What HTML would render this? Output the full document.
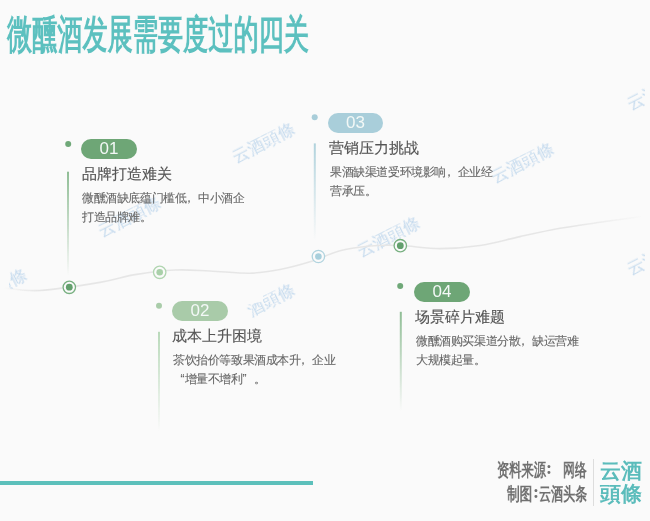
<!DOCTYPE html>
<html><head><meta charset="utf-8">
<style>
html,body{margin:0;padding:0;}
.a,.pill,.h,.b,.wm,.ft{will-change:transform;}
body{width:650px;height:521px;overflow:hidden;background:#fafafa;position:relative;font-family:"Liberation Sans",sans-serif;}
.a{position:absolute;white-space:nowrap;}
.title{left:7px;top:6.9px;font-size:40px;font-weight:700;color:#5cc0bf;letter-spacing:0;transform-origin:0 0;transform:scale(0.629,1);}
.pill{position:absolute;height:20px;border-radius:10px;color:#f3f8f6;font-size:17px;line-height:20px;text-align:center;width:56px;}
.h{position:absolute;font-size:15px;color:#555;line-height:18px;white-space:nowrap;-webkit-text-stroke:0.15px #555;}
.b{position:absolute;font-size:12px;letter-spacing:-0.4px;color:#666;line-height:19.4px;white-space:nowrap;-webkit-text-stroke:0.1px #666;}
.cm{position:relative;left:-3.4px;}
.ql{display:inline-block;width:11.6px;text-align:right;letter-spacing:0;}
.qr{display:inline-block;width:11.6px;text-align:left;letter-spacing:0;}
.wm{position:absolute;font-family:"Liberation Serif",serif;font-size:17px;line-height:20px;color:#c6dbee;transform-origin:0 0;transform:rotate(-27deg);white-space:nowrap;}
.ft{position:absolute;font-family:"Liberation Serif",serif;font-weight:700;color:#707070;white-space:nowrap;transform-origin:0 0;}
</style></head><body>
<div class="a title" id="title">微醺酒发展需要度过的四关</div>

<!-- watermarks -->
<div style="position:absolute;left:0;top:0;width:645px;height:521px;clip-path:inset(0 0 0 9px);">
<div class="wm" style="left:229.1px;top:149.6px;">云酒頭條</div>
<div class="wm" style="left:95.2px;top:224.2px;">云酒頭條</div>
<div class="wm" style="left:487.8px;top:170.2px;">云酒頭條</div>
<div class="wm" style="left:354px;top:244.3px;">云酒頭條</div>
<div style="position:absolute;left:0;top:0;width:650px;height:521px;clip-path:polygon(246px 305.3px,263px 301.3px,263px 265px,335px 265px,335px 345px,252px 345px,252px 310px,246px 310px);"><div class="wm" style="left:228.6px;top:311px;">云酒頭條</div></div>
<div class="wm" style="left:623.6px;top:96.6px;">云酒頭條</div>
<div class="wm" style="left:623.6px;top:261.6px;">云酒頭條</div>
<div class="wm" style="left:-39.1px;top:295.7px;">云酒頭條</div>
</div>
<svg class="a" style="left:0;top:0" width="650" height="521" viewBox="0 0 650 521">
<defs>
<linearGradient id="cg" x1="0" y1="0" x2="650" y2="0" gradientUnits="userSpaceOnUse">
<stop offset="0.005" stop-color="#e6e6e6" stop-opacity="0"/>
<stop offset="0.06" stop-color="#e6e6e6" stop-opacity="1"/>
<stop offset="0.88" stop-color="#e6e6e6" stop-opacity="1"/>
<stop offset="0.99" stop-color="#e6e6e6" stop-opacity="0"/>
</linearGradient>
<linearGradient id="lg1" x1="0" y1="0" x2="0" y2="1"><stop offset="0" stop-color="#8fbd95"/><stop offset="1" stop-color="#8fbd95" stop-opacity="0"/></linearGradient>
<linearGradient id="lg2" x1="0" y1="0" x2="0" y2="1"><stop offset="0" stop-color="#b9d9ba"/><stop offset="1" stop-color="#b9d9ba" stop-opacity="0"/></linearGradient>
<linearGradient id="lg3" x1="0" y1="0" x2="0" y2="1"><stop offset="0" stop-color="#b0d2dc"/><stop offset="1" stop-color="#b0d2dc" stop-opacity="0"/></linearGradient>
</defs>
<path d="M4.0,288.0 C10.0,288.4 24.0,291.4 40.0,290.5 C56.0,289.6 84.2,285.0 100.0,282.4 C115.8,279.8 122.5,276.7 135.0,274.6 C147.5,272.5 162.5,270.6 175.0,270.0 C187.5,269.4 197.5,270.5 210.0,271.0 C222.5,271.5 238.3,273.4 250.0,273.2 C261.7,272.9 270.0,271.4 280.0,269.5 C290.0,267.6 300.0,264.9 310.0,261.8 C320.0,258.7 330.0,253.4 340.0,250.8 C350.0,248.2 360.0,246.9 370.0,246.0 C380.0,245.1 388.3,245.1 400.0,245.5 C411.7,245.9 426.7,248.6 440.0,248.6 C453.3,248.6 466.7,247.5 480.0,245.5 C493.3,243.5 506.7,239.5 520.0,236.6 C533.3,233.7 546.7,230.7 560.0,228.3 C573.3,225.9 586.3,224.3 600.0,222.3 C613.7,220.3 635.0,217.5 642.0,216.5" fill="none" stroke="url(#cg)" stroke-width="1.6"/>
<!-- vertical lines -->
<rect x="67" y="171.7" width="2" height="104" fill="url(#lg1)"/>
<rect x="158" y="331.8" width="2" height="99" fill="url(#lg2)"/>
<rect x="313.8" y="143.4" width="2" height="97" fill="url(#lg3)"/>
<rect x="399.8" y="311.8" width="2" height="99" fill="url(#lg1)"/>
<!-- dots -->
<circle cx="68.2" cy="143.9" r="3" fill="#6fa878"/>
<circle cx="159" cy="305.8" r="3" fill="#a9cca9"/>
<circle cx="314.7" cy="117.2" r="3" fill="#a8cdd9"/>
<circle cx="400.2" cy="285.9" r="3" fill="#6fa878"/>
<!-- curve nodes -->
<g fill="#fafafa" stroke-width="1.3">
<circle cx="69.3" cy="287.3" r="6.2" stroke="#78b081"/>
<circle cx="159.7" cy="272.3" r="6.2" stroke="#b0d5b0"/>
<circle cx="318.4" cy="256.5" r="6.2" stroke="#b0d3de"/>
<circle cx="400.3" cy="245.7" r="6.2" stroke="#78b081"/>
</g>
<circle cx="69.3" cy="287.2" r="3.4" fill="#63a06d"/>
<circle cx="159.7" cy="272.3" r="3.3" fill="#a9d0a9"/>
<circle cx="318.4" cy="256.5" r="3.3" fill="#a8cfdc"/>
<circle cx="400.3" cy="245.7" r="3.4" fill="#63a06d"/>
<!-- bottom bar -->
<rect x="0" y="481" width="313" height="4" fill="#5cc0bb"/>
<rect x="593" y="459" width="1" height="47" fill="#dddddd"/>
</svg>

<div class="pill" style="left:81px;top:139px;background:#6ea676;">01</div>
<div class="pill" style="left:172px;top:301px;background:#a9cba9;">02</div>
<div class="pill" style="left:327.6px;top:112.6px;width:55px;background:#a9ceda;">03</div>
<div class="pill" style="left:414px;top:282px;background:#6ea676;">04</div>

<div class="h" style="left:82px;top:164.5px;">品牌打造难关</div>
<div class="b" style="left:82px;top:189px;">微醺酒缺底蕴门槛低<span class="cm">，</span>中小酒企<br>打造品牌难。</div>

<div class="h" style="left:329px;top:138.6px;">营销压力挑战</div>
<div class="b" style="left:329.5px;top:162.7px;">果酒缺渠道受环境影响<span class="cm">，</span>企业经<br>营承压。</div>

<div class="h" style="left:172px;top:326.5px;">成本上升困境</div>
<div class="b" style="left:172.5px;top:351px;">茶饮抬价等致果酒成本升<span class="cm">，</span>企业<br><span class="ql">“</span>增量不增利<span class="qr">”</span>。</div>

<div class="h" style="left:415px;top:307.8px;">场景碎片难题</div>
<div class="b" style="left:415.5px;top:332px;">微醺酒购买渠道分散<span class="cm">，</span>缺运营难<br>大规模起量。</div>

<div class="ft" style="left:496.5px;top:457.8px;font-size:18px;transform:scaleX(0.68);">资料来源</div>
<div class="ft" style="left:546px;top:457.8px;font-size:18px;">:</div>
<div class="ft" style="left:563px;top:457.8px;font-size:18px;transform:scaleX(0.66);">网络</div>
<div class="ft" style="left:506.5px;top:481.5px;font-size:18px;transform:scaleX(0.7);">制图</div>
<div class="ft" style="left:533px;top:481.5px;font-size:18px;">:</div>
<div class="ft" style="left:538.5px;top:481.5px;font-size:18px;transform:scaleX(0.67);">云酒头条</div>
<div class="ft" style="left:600px;top:460px;font-size:21px;line-height:23px;color:#5bbcbb;">云酒<br>頭條</div>
</body></html>
